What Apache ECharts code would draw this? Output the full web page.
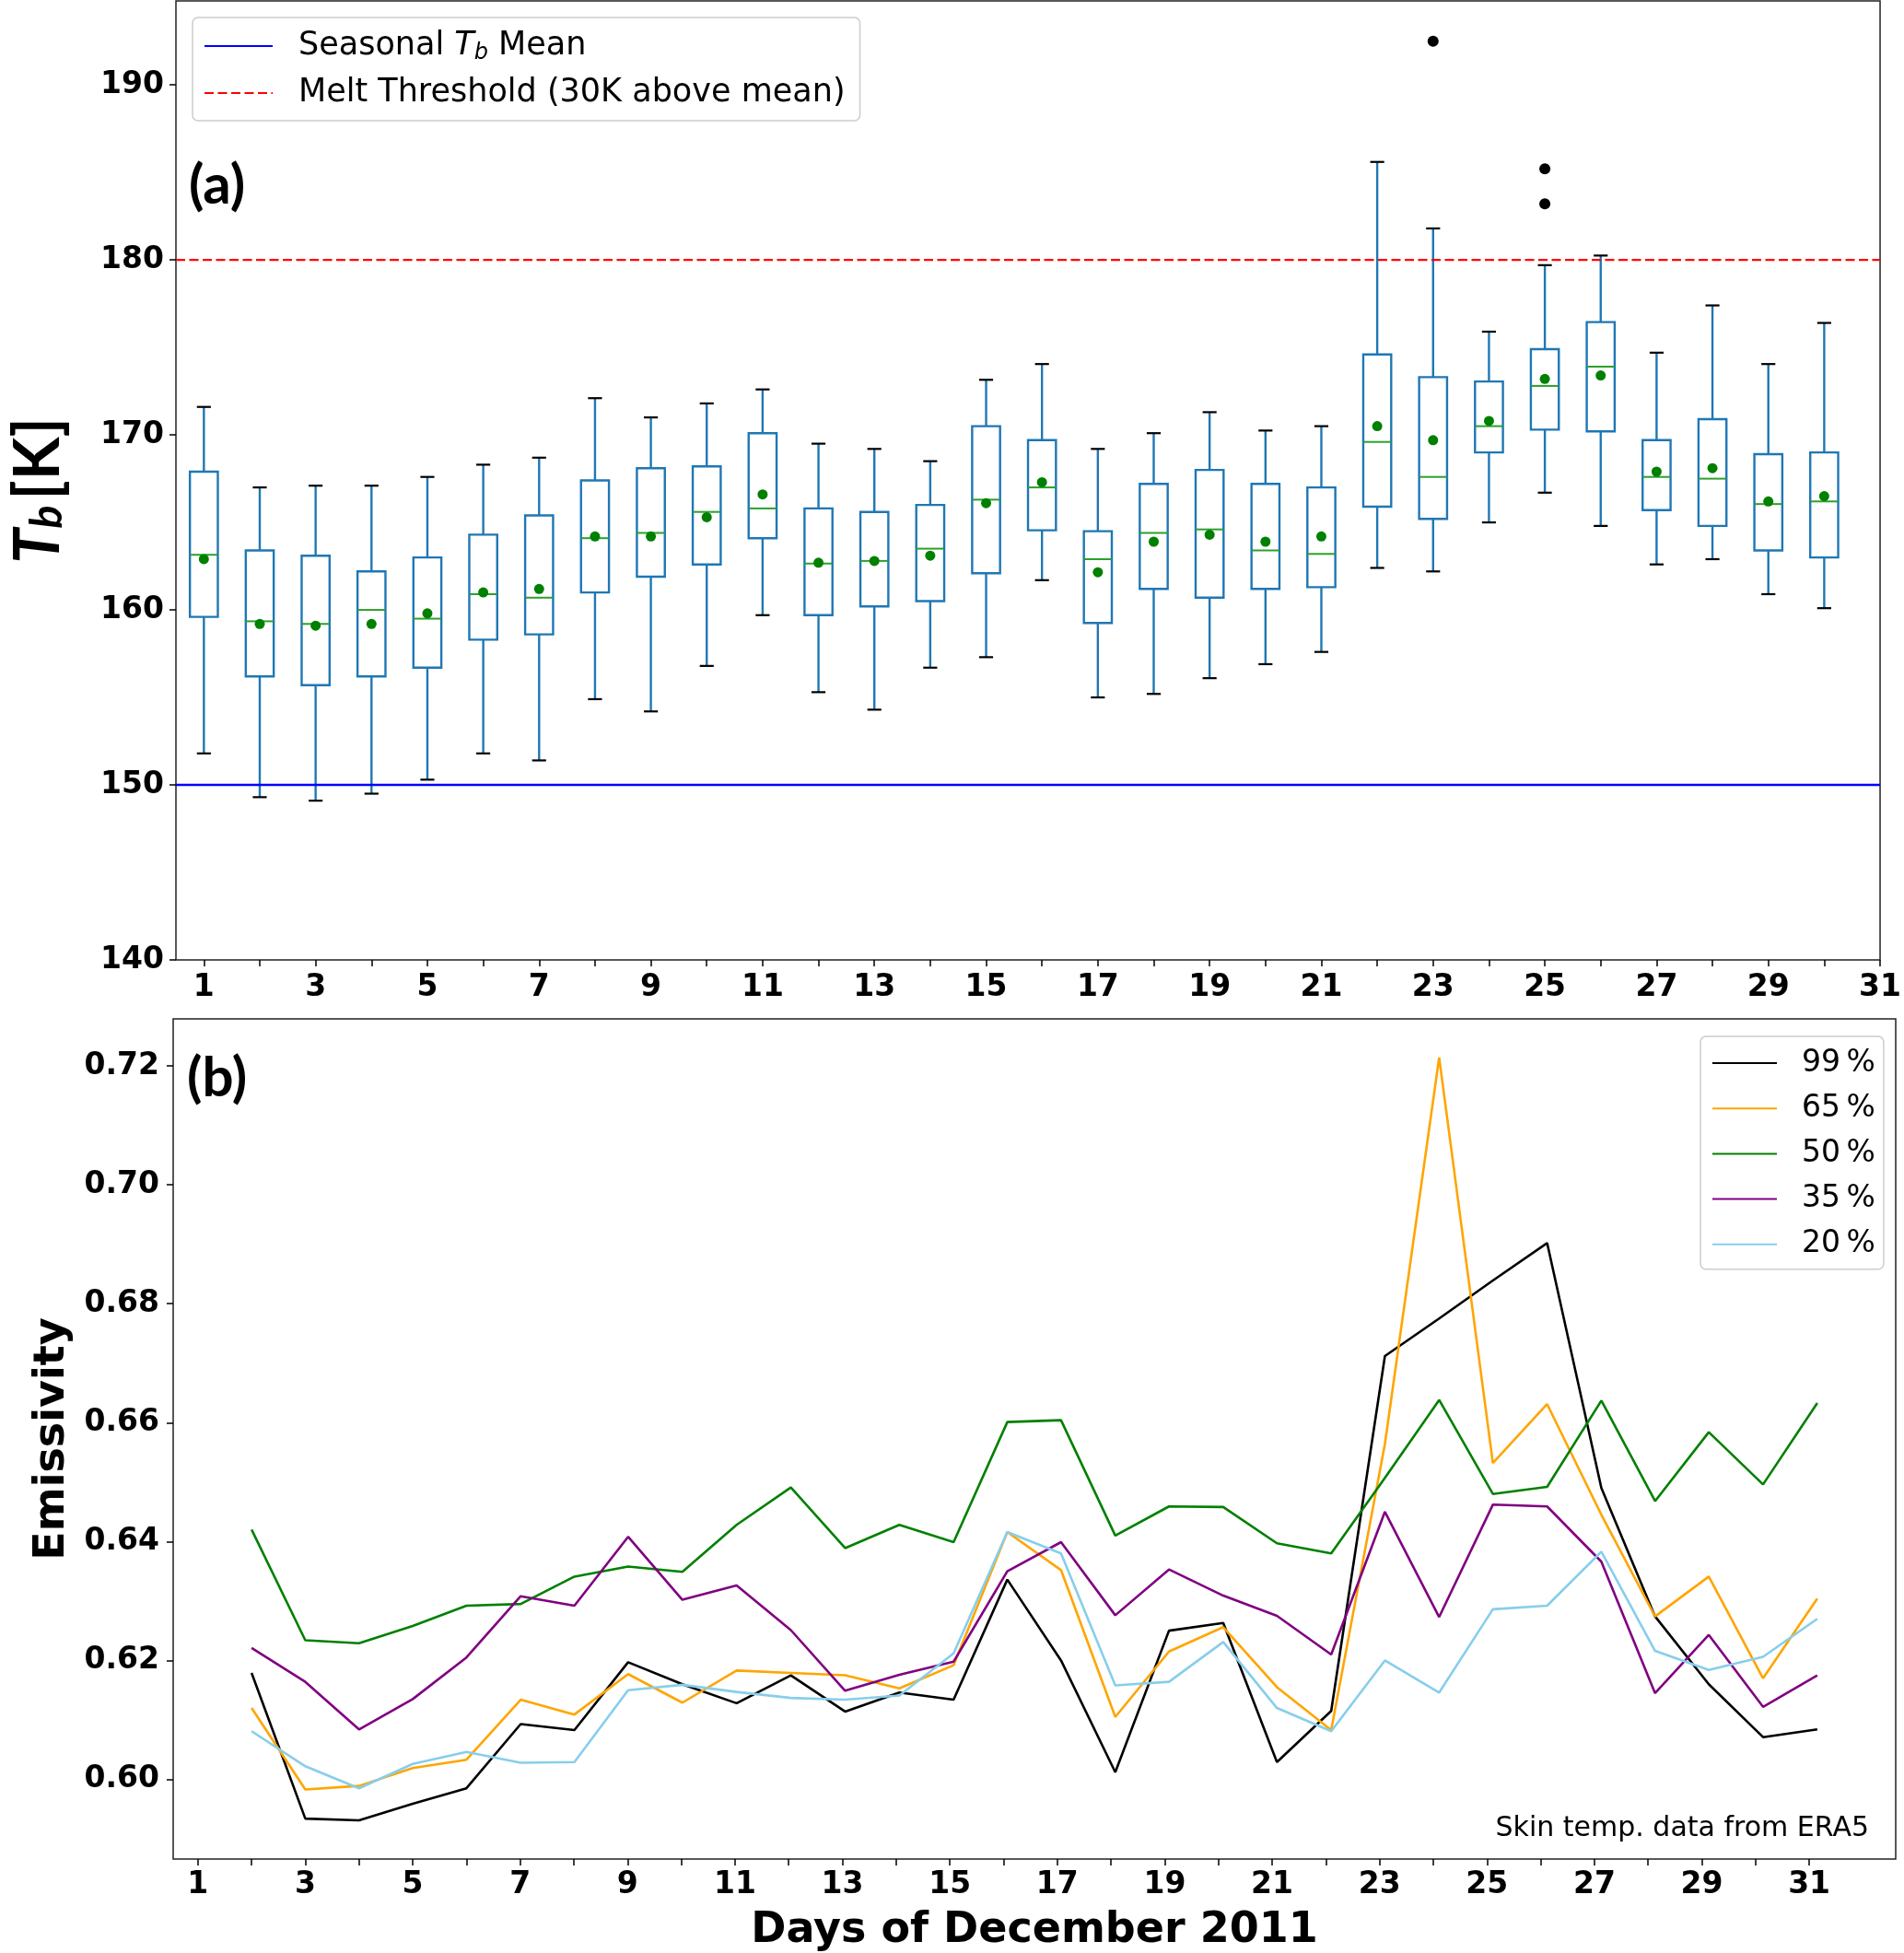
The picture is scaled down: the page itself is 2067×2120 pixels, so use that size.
<!DOCTYPE html>
<html><head><meta charset="utf-8">
<script src="https://cdn.jsdelivr.net/npm/echarts@6/dist/echarts.min.js"></script>
<style>html,body{margin:0;padding:0;background:#fff}#c{width:2067px;height:2120px}</style>
</head><body><div id="c"></div>
<script>
// ---------- panel (a): daily Tb box statistics ----------
const boxDays = [1,2,3,4,5,6,7,8,9,10,11,12,13,14,15,16,17,18,19,20,21,22,23,24,25,26,27,28,29,30];
const whiskerLow  = [151.8,149.3,149.1,149.5,150.3,151.8,151.4,154.9,154.2,156.8,159.7,155.3,154.3,156.7,157.3,161.7,155.0,155.2,156.1,156.9,157.6,162.4,162.2,165.0,166.7,164.8,162.6,162.9,160.9,160.1];
const q1          = [159.6,156.2,155.7,156.2,156.7,158.3,158.6,161.0,161.9,162.6,164.1,159.7,160.2,160.5,162.1,164.55,159.25,161.2,160.7,161.2,161.3,165.9,165.2,169.0,170.3,170.2,165.7,164.8,163.4,163.0];
const median      = [163.15,159.35,159.2,160.0,159.5,160.9,160.7,164.1,164.4,165.6,165.8,162.65,162.8,163.5,166.3,167.0,162.9,164.4,164.6,163.4,163.2,169.6,167.6,170.5,172.8,173.9,167.6,167.5,166.05,166.2];
const q3          = [167.9,163.4,163.1,162.2,163.0,164.3,165.4,167.4,168.1,168.2,170.1,165.8,165.6,166.0,170.5,169.7,164.5,167.2,168.0,167.2,167.0,174.6,173.3,173.05,174.9,176.45,169.7,170.9,168.9,169.0];
const whiskerHigh = [171.6,167.0,167.1,167.1,167.6,168.3,168.7,172.1,171.0,171.8,172.6,169.5,169.2,168.5,173.15,174.05,169.2,170.1,171.3,170.25,170.5,185.6,181.8,175.9,179.7,180.25,174.7,177.4,174.05,176.4];
const means       = [162.9,159.2,159.1,159.2,159.8,161.0,161.2,164.2,164.2,165.3,166.6,162.7,162.8,163.1,166.1,167.3,162.15,163.9,164.3,163.9,164.2,170.5,169.7,170.8,173.2,173.4,167.9,168.1,166.2,166.5];
const outlierDays = [23,25,25];
const outlierVals = [192.5,185.2,183.2];
const seasonalMean = 150;
const meltThreshold = 180;

// ---------- panel (b): emissivity ----------
const emisX  = [2.00,3.00,4.00,5.00,6.00,7.01,8.01,9.01,10.02,11.03,12.04,13.05,14.06,15.07,16.07,17.07,18.08,19.08,20.09,21.09,22.10,23.10,24.11,25.11,26.12,27.13,28.13,29.13,30.14,31.15];
const emis99 = [0.6179,0.5934,0.5931,0.5959,0.5985,0.6093,0.6083,0.6197,0.6160,0.6128,0.6175,0.6114,0.6146,0.6134,0.6336,0.6200,0.6012,0.6250,0.6263,0.6029,0.6115,0.6712,0.6775,0.6839,0.6902,0.6490,0.6274,0.6160,0.6071,0.6084];
const emis65 = [0.6120,0.5983,0.5989,0.6019,0.6033,0.6134,0.6109,0.6177,0.6129,0.6183,0.6179,0.6175,0.6153,0.6192,0.6416,0.6352,0.6105,0.6215,0.6256,0.6155,0.6083,0.6564,0.7214,0.6532,0.6631,0.6445,0.6274,0.6341,0.6170,0.6304];
const emis50 = [0.6420,0.6234,0.6229,0.6258,0.6292,0.6295,0.6341,0.6358,0.6349,0.6428,0.6491,0.6389,0.6428,0.6399,0.6601,0.6604,0.6410,0.6459,0.6458,0.6397,0.6380,0.6507,0.6638,0.6480,0.6492,0.6637,0.6468,0.6584,0.6496,0.6633];
const emis35 = [0.6221,0.6164,0.6084,0.6135,0.6205,0.6308,0.6292,0.6408,0.6302,0.6326,0.6251,0.6149,0.6176,0.6198,0.6350,0.6399,0.6276,0.6353,0.6309,0.6275,0.6210,0.6450,0.6273,0.6462,0.6459,0.6366,0.6145,0.6243,0.6122,0.6175];
const emis20 = [0.6081,0.6022,0.5985,0.6026,0.6046,0.6028,0.6029,0.6150,0.6159,0.6147,0.6137,0.6134,0.6141,0.6212,0.6416,0.6380,0.6158,0.6164,0.6231,0.6120,0.6081,0.6200,0.6146,0.6286,0.6292,0.6383,0.6216,0.6184,0.6206,0.6270];
const emisNames = ['99\u2009%','65\u2009%','50\u2009%','35\u2009%','20\u2009%'];
const emisColors = ['#000000','#ffa500','#008000','#800080','#87ceeb'];

// ---------- ticks ----------
const dayTicks = [1,2,3,4,5,6,7,8,9,10,11,12,13,14,15,16,17,18,19,20,21,22,23,24,25,26,27,28,29,30,31];
const dayLabels = [1,3,5,7,9,11,13,15,17,19,21,23,25,27,29,31];
const tbTicks = [140,150,160,170,180,190];
const emisTicks = [0.60,0.62,0.64,0.66,0.68,0.70,0.72];

const NARROW = 'Lato,"Liberation Sans Narrow","DejaVu Sans Condensed",sans-serif';
const SANS = '"DejaVu Sans",sans-serif';

const chart = echarts.init(document.getElementById('c'), null, {renderer:'canvas'});

function axisCommon(ticks, labels, fmt, margin){
  return {
    axisLine:{show:false, onZero:false},
    axisTick:{show:true, length:7, inside:false, lineStyle:{color:'#000', width:1.5}, customValues:ticks},
    axisLabel:{show:true, customValues:labels, margin:margin, color:'#000', fontFamily:SANS, fontWeight:'bold', fontSize:33, formatter:fmt},
    splitLine:{show:false}
  };
}

const boxData = boxDays.map((d,i)=>[d, whiskerLow[i], q1[i], median[i], q3[i], whiskerHigh[i]]);

function renderBox(params, api){
  const x = api.value(0);
  const pLo = api.coord([x, api.value(1)]);
  const pQ1 = api.coord([x, api.value(2)]);
  const pMed = api.coord([x, api.value(3)]);
  const pQ3 = api.coord([x, api.value(4)]);
  const pHi = api.coord([x, api.value(5)]);
  const w = api.size([0.5, 0])[0];
  const cx = pQ1[0];
  const blue = '#1f77b4';
  return {type:'group', children:[
    {type:'line', shape:{x1:cx,y1:pLo[1],x2:cx,y2:pQ1[1]}, style:{stroke:blue,lineWidth:2.4}},
    {type:'line', shape:{x1:cx,y1:pQ3[1],x2:cx,y2:pHi[1]}, style:{stroke:blue,lineWidth:2.4}},
    {type:'line', shape:{x1:cx-w/4,y1:pLo[1],x2:cx+w/4,y2:pLo[1]}, style:{stroke:'#000',lineWidth:2.2}},
    {type:'line', shape:{x1:cx-w/4,y1:pHi[1],x2:cx+w/4,y2:pHi[1]}, style:{stroke:'#000',lineWidth:2.2}},
    {type:'rect', shape:{x:cx-w/2,y:pQ3[1],width:w,height:pQ1[1]-pQ3[1]}, style:{fill:'#fff',stroke:blue,lineWidth:2.4}},
    {type:'line', shape:{x1:cx-w/2,y1:pMed[1],x2:cx+w/2,y2:pMed[1]}, style:{stroke:'#2ca02c',lineWidth:2}}
  ]};
}

const SEASONAL = 'Seasonal Tb Mean';
const MELT = 'Melt Threshold (30K above mean)';

const option = {
  animation:false,
  backgroundColor:'#fff',
  grid:[
    {left:190, right:25, top:1, height:1041, show:true, borderColor:'#222', borderWidth:1.5, backgroundColor:'transparent'},
    {left:188, right:9, top:1106, height:912, show:true, borderColor:'#222', borderWidth:1.5, backgroundColor:'transparent'}
  ],
  xAxis:[
    Object.assign({type:'value', gridIndex:0, min:0.5, max:31}, axisCommon(dayTicks, dayLabels, v=>String(v), 14)),
    Object.assign({type:'value', gridIndex:1, min:0.54, max:32.61,
      name:'Days of December 2011', nameLocation:'middle', nameGap:55,
      nameTextStyle:{fontFamily:SANS, fontWeight:'bold', fontSize:46, color:'#000'}}, axisCommon(dayTicks, dayLabels, v=>String(v), 12))
  ],
  yAxis:[
    Object.assign({type:'value', gridIndex:0, min:140, max:194.8,
      name:'{t|T}{s|b}{k|[K]}', nameLocation:'middle', nameGap:116, nameRotate:90,
      nameTextStyle:{color:'#000', padding:[0,22,0,0], rich:{
        t:{fontFamily:NARROW, fontWeight:'bold', fontStyle:'italic', fontSize:68, lineHeight:66},
        s:{fontFamily:NARROW, fontWeight:'bold', fontStyle:'italic', fontSize:47, lineHeight:40, verticalAlign:'bottom'},
        k:{fontFamily:NARROW, fontWeight:'bold', fontSize:68, lineHeight:66, padding:[0,0,0,6]}
      }}}, axisCommon(tbTicks, tbTicks, v=>String(v), 13)),
    Object.assign({type:'value', gridIndex:1, min:0.5866, max:0.7279,
      name:'Emissivity', nameLocation:'middle', nameGap:108, nameRotate:90,
      nameTextStyle:{fontFamily:SANS, fontWeight:'bold', fontSize:46, color:'#000'}}, axisCommon(emisTicks, emisTicks, v=>v.toFixed(2), 15))
  ],
  legend:[
    {orient:'vertical', left:209, top:19, data:[SEASONAL, MELT], itemWidth:74, itemHeight:14, itemGap:11,
     padding:[11,16,10,12], backgroundColor:'rgba(255,255,255,0.8)', borderColor:'#cccccc', borderWidth:1.5, borderRadius:6,
     selectedMode:false, itemStyle:{opacity:0},
     formatter:(name)=> name===SEASONAL ? '{n|Seasonal }{i|T}{s|b}{n| Mean}' : name,
     textStyle:{fontFamily:SANS, fontSize:35, color:'#000', lineHeight:40, padding:[0,0,0,23],
       rich:{
         n:{fontFamily:SANS, fontSize:35, lineHeight:40},
         i:{fontFamily:SANS, fontSize:35, fontStyle:'italic', lineHeight:40},
         s:{fontFamily:SANS, fontSize:24, fontStyle:'italic', lineHeight:24, verticalAlign:'bottom'}
       }}},
    {orient:'vertical', left:1846, top:1125, data:emisNames, itemWidth:70, itemHeight:14, itemGap:13.2,
     padding:[11,9,9,12], backgroundColor:'rgba(255,255,255,0.8)', borderColor:'#cccccc', borderWidth:1.5, borderRadius:6,
     selectedMode:false, itemStyle:{opacity:0},
     textStyle:{fontFamily:SANS, fontSize:33, color:'#000', lineHeight:36, padding:[0,0,0,22]}}
  ],
  graphic:[
    {type:'text', left:205, top:172, style:{text:'(a)', fontFamily:NARROW, fontWeight:'bold', fontSize:60, fill:'#000'}},
    {type:'text', left:203, top:1141, style:{text:'(b)', fontFamily:NARROW, fontWeight:'bold', fontSize:60, fill:'#000'}},
    {type:'text', right:38, top:1970, style:{text:'Skin temp. data from ERA5', fontFamily:SANS, fontSize:30, fill:'#000'}}
  ],
  series:[
    {type:'custom', name:'box', xAxisIndex:0, yAxisIndex:0, renderItem:renderBox, data:boxData,
     encode:{x:0, y:[1,2,3,4,5]}, z:2, silent:true},
    {type:'line', name:SEASONAL, xAxisIndex:0, yAxisIndex:0, data:[[0.5,seasonalMean],[31,seasonalMean]],
     symbol:'none', lineStyle:{color:'#0000ff', width:2.4}, itemStyle:{color:'#0000ff'}, z:3},
    {type:'line', name:MELT, xAxisIndex:0, yAxisIndex:0, data:[[0.5,meltThreshold],[31,meltThreshold]],
     symbol:'none', lineStyle:{color:'#ff0000', width:2.4, type:[10,4.5]}, itemStyle:{color:'#ff0000'}, z:3},
    {type:'scatter', name:'mean', xAxisIndex:0, yAxisIndex:0, data:boxDays.map((d,i)=>[d, means[i]]),
     symbol:'circle', symbolSize:11, itemStyle:{color:'#008000', opacity:1}, z:4},
    {type:'scatter', name:'outliers', xAxisIndex:0, yAxisIndex:0, data:outlierDays.map((d,i)=>[d, outlierVals[i]]),
     symbol:'circle', symbolSize:12, itemStyle:{color:'#000', opacity:1}, z:4}
  ].concat([emis99, emis65, emis50, emis35, emis20].map((arr,k)=>({
     type:'line', name:emisNames[k], xAxisIndex:1, yAxisIndex:1,
     data:emisX.map((x,i)=>[x, arr[i]]), symbol:'none',
     lineStyle:{color:emisColors[k], width:2.6}, itemStyle:{color:emisColors[k]}, z:3
  })))
};
chart.setOption(option);
</script></body></html>
